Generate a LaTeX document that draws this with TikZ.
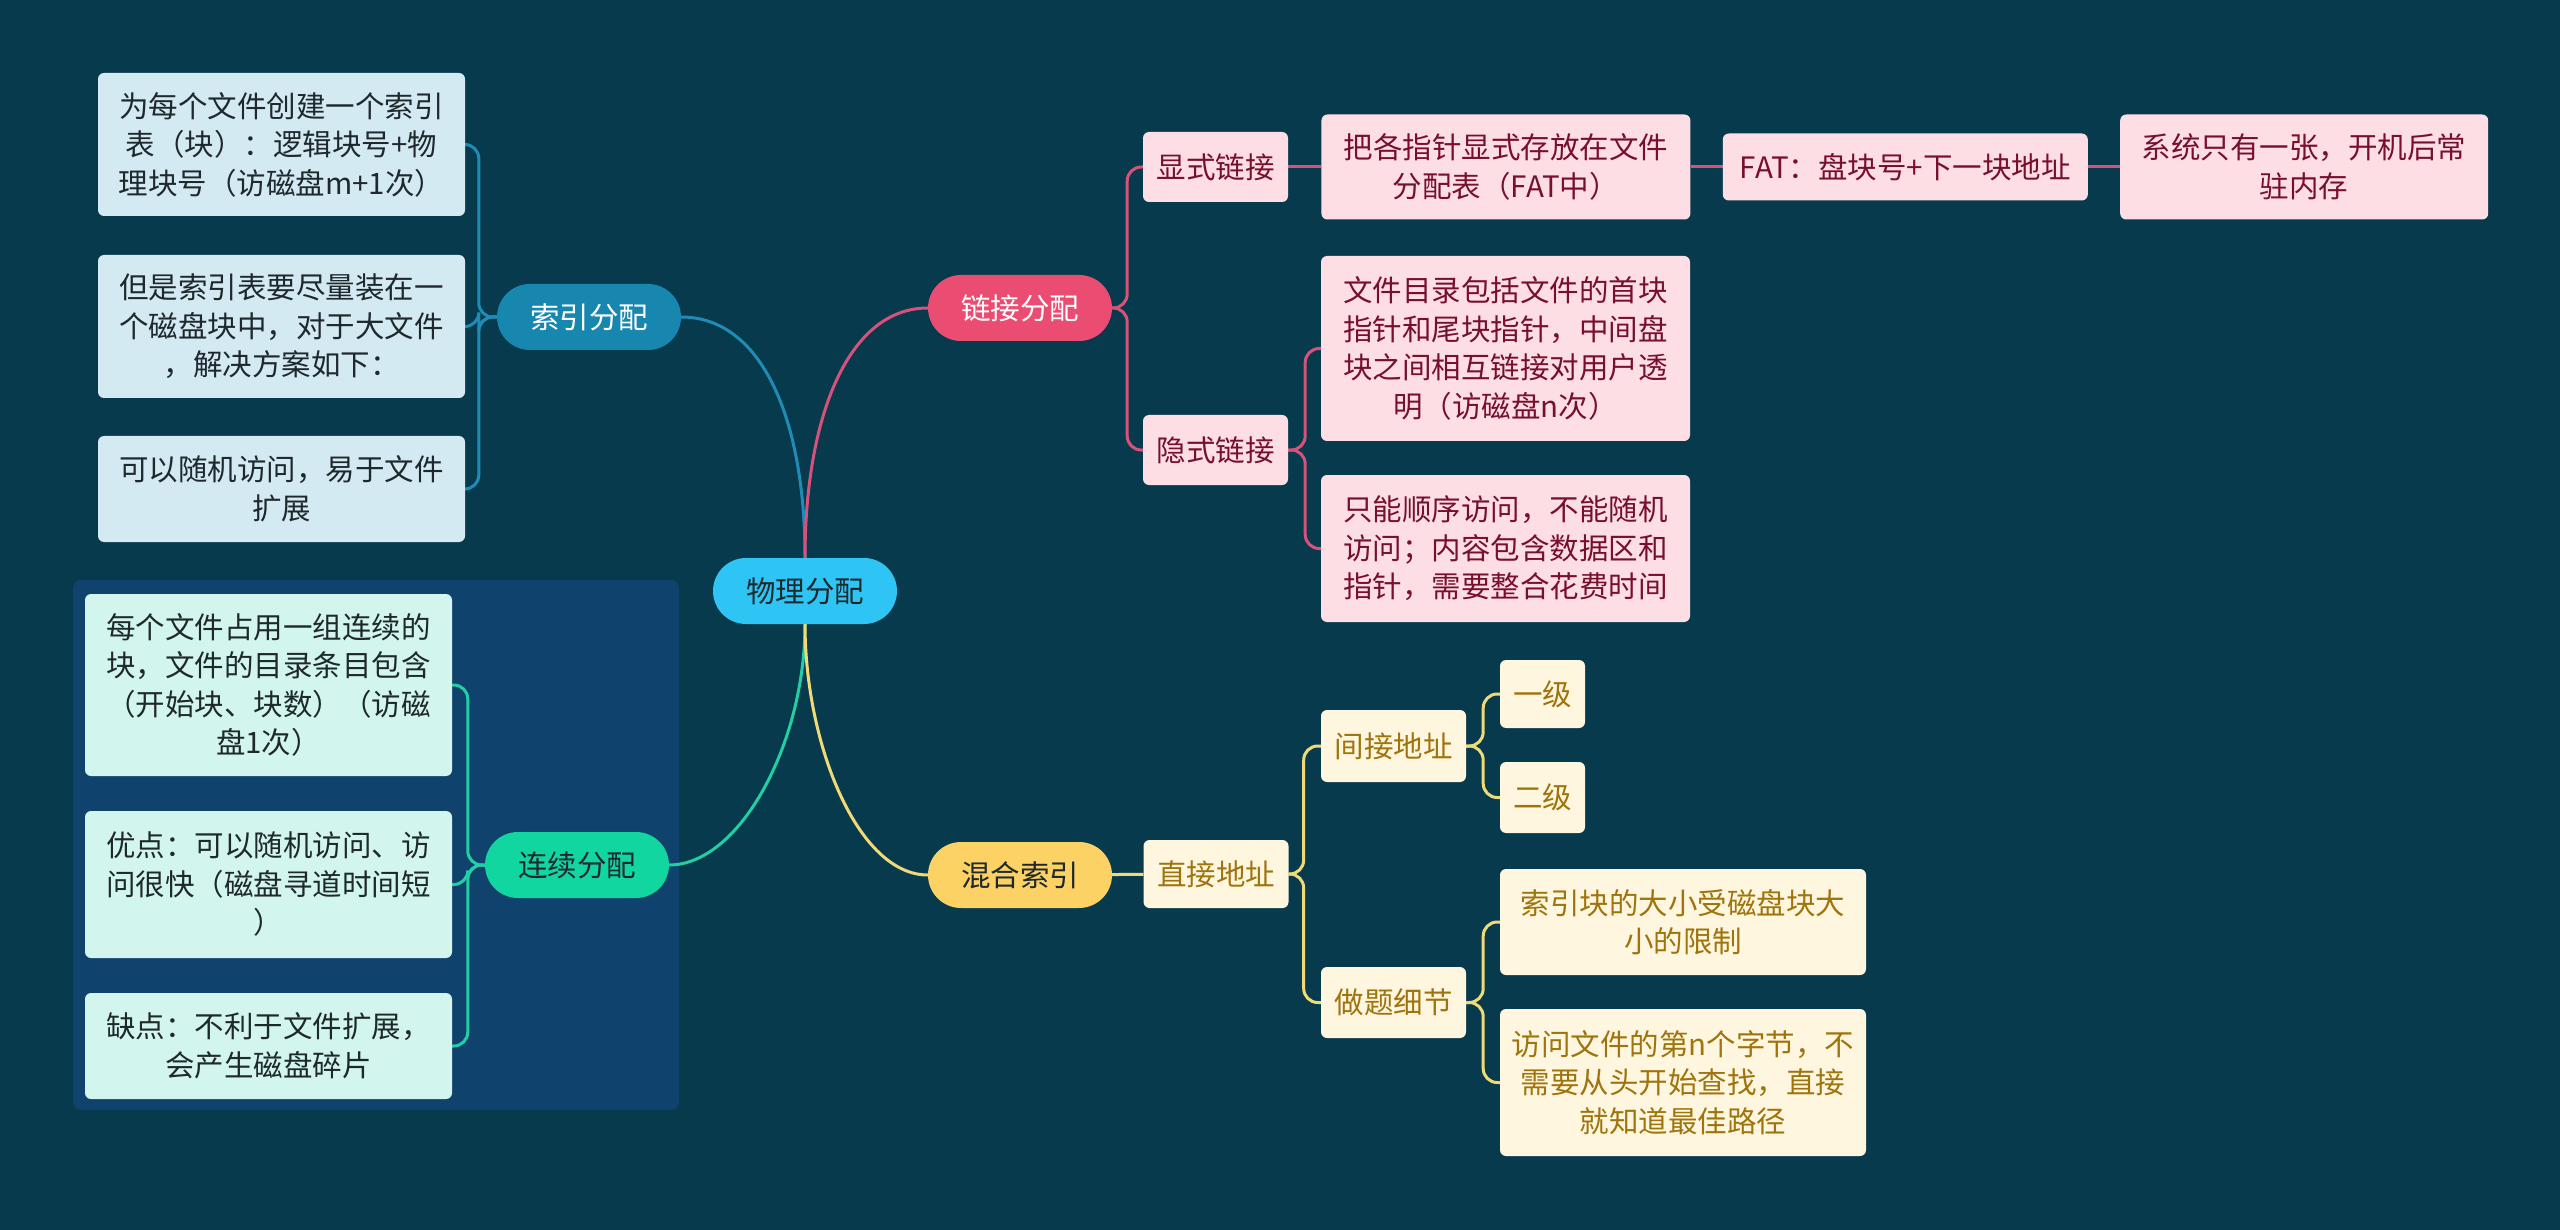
\documentclass[tikz,border=0pt]{standalone}
\usepackage{fontspec}
\setmainfont{Noto Sans CJK SC}
\usetikzlibrary{positioning,backgrounds}

\definecolor{bgcol}{RGB}{7,58,76}
\definecolor{rootfill}{RGB}{46,197,245}
\definecolor{idxfill}{RGB}{24,135,176}
\definecolor{idxleaf}{RGB}{212,234,242}
\definecolor{idxline}{RGB}{32,140,182}
\definecolor{lnkfill}{RGB}{234,76,114}
\definecolor{lnkleaf}{RGB}{253,222,229}
\definecolor{lnktext}{RGB}{120,16,44}
\definecolor{lnkline}{RGB}{214,82,122}
\definecolor{mixfill}{RGB}{252,210,100}
\definecolor{mixleaf}{RGB}{254,246,222}
\definecolor{mixtext}{RGB}{160,116,12}
\definecolor{mixline}{RGB}{240,218,120}
\definecolor{cntfill}{RGB}{18,214,160}
\definecolor{cntleaf}{RGB}{210,246,238}
\definecolor{cntline}{RGB}{36,206,164}
\definecolor{cntgroup}{RGB}{15,66,108}
\definecolor{darktext}{RGB}{30,40,45}

\begin{document}
\begin{tikzpicture}[x=1pt,y=-1pt,
  every node/.style={align=center,inner sep=0pt,font=\fontsize{29.5pt}{38.5pt}\selectfont},
  pill/.style={rounded corners=33pt,minimum width=184pt,minimum height=66pt},
  leaf/.style={rounded corners=6pt},
  idxbox/.style={leaf,fill=idxleaf,text=darktext,minimum width=367pt},
  lnkbox/.style={leaf,fill=lnkleaf,text=lnktext},
  mixbox/.style={leaf,fill=mixleaf,text=mixtext},
  cntbox/.style={leaf,fill=cntleaf,text=darktext,minimum width=367pt},
  idxedge/.style={draw=idxline,line width=3pt,rounded corners=14pt},
  lnkedge/.style={draw=lnkline,line width=3pt,rounded corners=14pt},
  mixedge/.style={draw=mixline,line width=3pt,rounded corners=14pt},
  cntedge/.style={draw=cntline,line width=3pt,rounded corners=14pt}]
\useasboundingbox (0,0) rectangle (2560,1230);

% main topics
\node[pill,fill=rootfill,text=darktext] (root) at (805,591) {物理分配};
\node[pill,fill=idxfill,text=white] (index) at (589,317) {索引分配};
\node[pill,fill=lnkfill,text=white] (link) at (1020,308) {链接分配};
\node[pill,fill=cntfill,text=darktext] (contig) at (577,865) {连续分配};
\node[pill,fill=mixfill,text=darktext] (hybrid) at (1020,875) {混合索引};

% index allocation
\node[idxbox,minimum height=143pt] (idxa) at (281.5,144.5) {为每个文件创建一个索引\\表（块）：逻辑块号+物\\理块号（访磁盘m+1次）};
\node[idxbox,minimum height=143pt] (idxb) at (281.5,326.5) {但是索引表要尽量装在一\\个磁盘块中，对于大文件\\，解决方案如下：};
\node[idxbox,minimum height=106pt] (idxc) at (281.5,489) {可以随机访问，易于文件\\扩展};

% contiguous allocation
\node[cntbox,minimum height=182pt] (cnta) at (268.5,685) {每个文件占用一组连续的\\块，文件的目录条目包含\\（开始块、块数）（访磁\\盘1次）};
\node[cntbox,minimum height=147pt] (cntb) at (268.5,884.5) {优点：可以随机访问、访\\问很快（磁盘寻道时间短\\）};
\node[cntbox,minimum height=106pt] (cntc) at (268.5,1046) {缺点：不利于文件扩展，\\会产生磁盘碎片};

% linked allocation
\node[lnkbox,minimum width=145pt,minimum height=70pt] (explicit) at (1215.5,167) {显式链接};
\node[lnkbox,minimum width=369pt,minimum height=105pt,right=33pt of explicit] (table) {把各指针显式存放在文件\\分配表（FAT中）};
\node[lnkbox,minimum width=365pt,minimum height=67pt,right=32pt of table] (fat) {FAT：盘块号+下一块地址};
\node[lnkbox,minimum width=368pt,minimum height=105pt,right=32pt of fat] (resident) {系统只有一张，开机后常\\驻内存};
\node[lnkbox,minimum width=145pt,minimum height=70pt] (implicit) at (1215.5,450) {隐式链接};
\node[lnkbox,minimum width=369pt,minimum height=185pt] (impla) at (1505.5,348.5) {文件目录包括文件的首块\\指针和尾块指针，中间盘\\块之间相互链接对用户透\\明（访磁盘n次）};
\node[lnkbox,minimum width=369pt,minimum height=147pt] (implb) at (1505.5,548.5) {只能顺序访问，不能随机\\访问；内容包含数据区和\\指针，需要整合花费时间};

% hybrid index
\node[mixbox,minimum width=145pt,minimum height=68pt] (direct) at (1216,874) {直接地址};
\node[mixbox,minimum width=145pt,minimum height=72pt] (indirect) at (1393.5,746) {间接地址};
\node[mixbox,minimum width=85pt,minimum height=68pt] (lvlone) at (1542.5,694) {一级};
\node[mixbox,minimum width=85pt,minimum height=71pt] (lvltwo) at (1542.5,797.5) {二级};
\node[mixbox,minimum width=145pt,minimum height=71pt] (detail) at (1393.5,1002.5) {做题细节};
\node[mixbox,minimum width=366pt,minimum height=106pt] (dtla) at (1683,922) {索引块的大小受磁盘块大\\小的限制};
\node[mixbox,minimum width=366pt,minimum height=147pt] (dtlb) at (1683,1082.5) {访问文件的第n个字节，不\\需要从头开始查找，直接\\就知道最佳路径};

% connectors, under the boxes
\begin{scope}[on background layer]
\fill[bgcol] (0,0) rectangle (2560,1230);
\fill[cntgroup,rounded corners=8pt] (73,580) rectangle (679,1110);
\draw[idxedge] (root.north) .. controls +(0,-140) and +(80,0) .. (index.east);
\draw[lnkedge] (root.north) .. controls +(0,-140) and +(-80,0) .. (link.west);
\draw[cntedge] (root.south) .. controls +(0,120) and +(70,0) .. (contig.east);
\draw[mixedge] (root.south) .. controls +(0,120) and +(-70,0) .. (hybrid.west);
\foreach \c in {idxa,idxb,idxc} \draw[idxedge] (index.west) -- ++(-18,0) |- (\c.east);
\foreach \c in {cnta,cntb,cntc} \draw[cntedge] (contig.west) -- ++(-17,0) |- (\c.east);
\foreach \c in {explicit,implicit} \draw[lnkedge] (link.east) -- ++(15,0) |- (\c.west);
\foreach \c in {impla,implb} \draw[lnkedge] (implicit.east) -- ++(17,0) |- (\c.west);
\draw[lnkedge] (explicit)--(table);\draw[lnkedge] (table)--(fat);\draw[lnkedge] (fat)--(resident);
\draw[mixedge] (hybrid)--(direct);
\foreach \c in {indirect,detail} \draw[mixedge] (direct.east) -- ++(15,0) |- (\c.west);
\foreach \c in {lvlone,lvltwo} \draw[mixedge] (indirect.east) -- ++(17,0) |- (\c.west);
\foreach \c in {dtla,dtlb} \draw[mixedge] (detail.east) -- ++(17,0) |- (\c.west);
\end{scope}
\end{tikzpicture}
\end{document}
